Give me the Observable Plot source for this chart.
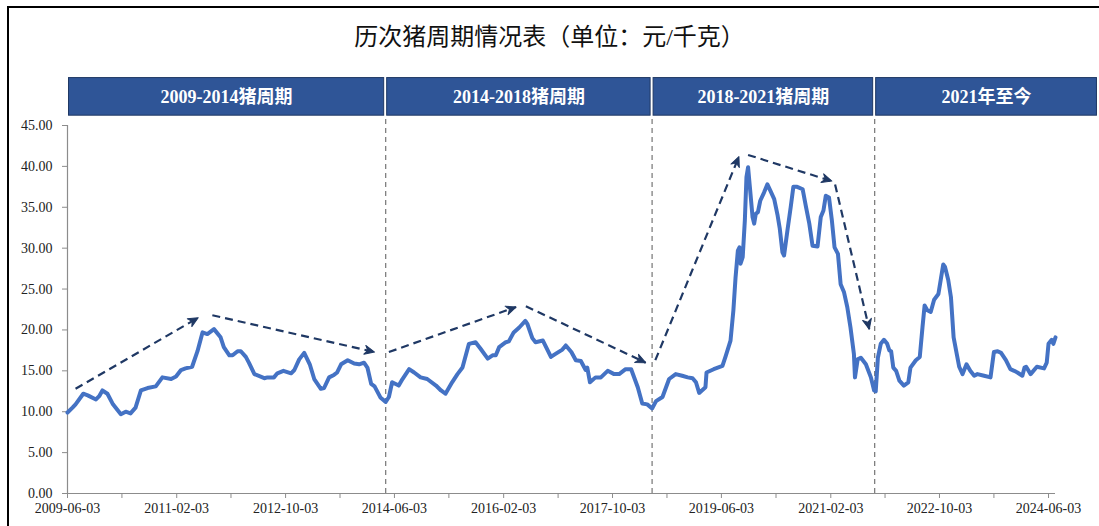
<!DOCTYPE html>
<html><head><meta charset="utf-8">
<script src="https://cdn.jsdelivr.net/npm/d3@7"></script>
<script src="https://cdn.jsdelivr.net/npm/@observablehq/plot@0.6"></script>
<style>
body{margin:0;background:#fff;}
#wrap{position:relative;width:1099px;height:526px;overflow:hidden;background:#fff;}
#frame{position:absolute;left:7px;top:6px;width:1200px;height:600px;border-left:2px solid #000;border-top:2px solid #000;}
#title{position:absolute;left:0;top:21px;width:1099px;text-align:center;font-family:"Liberation Serif","Noto Sans CJK SC",serif;font-size:24px;line-height:32px;color:#111;}
#chart{position:absolute;left:0;top:70px;}
</style></head>
<body><div id="wrap"><div id="frame"></div><div id="title">历次猪周期情况表（单位：元/千克）</div><div id="chart"></div></div>
<script>
const dates = ["2009-06-03","2009-07-01","2009-07-18","2009-08-30","2009-09-24","2009-11-09","2009-11-27","2009-12-15","2010-01-12","2010-02-12","2010-03-28","2010-04-24","2010-05-21","2010-06-18","2010-07-18","2010-08-24","2010-10-09","2010-11-15","2011-01-03","2011-01-30","2011-02-27","2011-03-24","2011-04-30","2011-05-30","2011-06-27","2011-07-24","2011-08-30","2011-10-06","2011-10-24","2011-11-24","2011-12-12","2012-01-09","2012-01-27","2012-02-24","2012-03-12","2012-04-12","2012-06-06","2012-06-24","2012-07-30","2012-08-18","2012-09-21","2012-11-03","2012-11-21","2012-12-18","2013-01-15","2013-02-15","2013-03-12","2013-04-18","2013-05-06","2013-06-03","2013-06-30","2013-07-18","2013-08-09","2013-09-15","2013-10-21","2013-11-18","2013-12-15","2014-01-03","2014-01-24","2014-02-12","2014-03-18","2014-04-15","2014-05-03","2014-05-21","2014-06-27","2014-07-18","2014-08-24","2014-09-21","2014-10-27","2014-12-03","2015-01-21","2015-02-18","2015-03-15","2015-04-21","2015-05-21","2015-06-18","2015-07-24","2015-08-30","2015-09-27","2015-11-06","2015-12-03","2015-12-21","2016-01-09","2016-02-15","2016-03-03","2016-03-30","2016-04-30","2016-06-03","2016-06-15","2016-07-12","2016-07-30","2016-09-09","2016-09-27","2016-10-24","2016-11-21","2016-12-27","2017-01-15","2017-02-15","2017-03-12","2017-04-09","2017-05-06","2017-05-15","2017-05-30","2017-06-30","2017-07-30","2017-09-06","2017-10-12","2017-11-09","2017-12-15","2018-01-15","2018-02-21","2018-03-18","2018-04-15","2018-05-12","2018-06-03","2018-07-09","2018-08-15","2018-09-21","2018-10-27","2018-11-27","2018-12-24","2019-01-12","2019-01-30","2019-03-06","2019-03-12","2019-04-21","2019-06-09","2019-06-27","2019-07-24","2019-08-09","2019-08-21","2019-09-03","2019-09-12","2019-09-18","2019-09-30","2019-10-12","2019-10-21","2019-10-30","2019-11-09","2019-11-24","2019-12-03","2019-12-12","2019-12-24","2020-01-06","2020-01-27","2020-02-15","2020-03-03","2020-03-24","2020-04-12","2020-04-24","2020-05-09","2020-05-18","2020-06-06","2020-06-24","2020-07-09","2020-07-30","2020-08-30","2020-09-18","2020-10-06","2020-10-24","2020-11-21","2020-12-09","2020-12-24","2021-01-06","2021-01-24","2021-02-09","2021-02-24","2021-03-15","2021-03-30","2021-04-18","2021-05-06","2021-05-24","2021-06-12","2021-06-18","2021-07-03","2021-07-21","2021-08-18","2021-09-15","2021-10-03","2021-10-12","2021-10-24","2021-11-09","2021-11-27","2021-12-15","2021-12-27","2022-01-06","2022-01-18","2022-02-03","2022-02-21","2022-03-18","2022-04-12","2022-04-24","2022-05-24","2022-06-15","2022-06-30","2022-07-12","2022-07-27","2022-08-15","2022-09-03","2022-09-27","2022-10-12","2022-10-24","2022-11-03","2022-11-21","2022-12-06","2022-12-21","2023-01-09","2023-01-21","2023-02-09","2023-03-03","2023-03-24","2023-04-15","2023-05-03","2023-06-09","2023-07-15","2023-08-03","2023-08-24","2023-09-12","2023-10-09","2023-11-03","2023-11-24","2023-12-12","2024-01-09","2024-01-21","2024-01-30","2024-02-24","2024-03-30","2024-05-09","2024-05-24","2024-06-03","2024-06-21","2024-06-30","2024-07-12"];
const prices = [9.9,10.5,10.9,12.2,12.0,11.5,11.9,12.6,12.2,10.9,9.7,10.0,9.8,10.5,12.6,12.9,13.1,14.2,14.0,14.3,15.1,15.3,15.5,17.4,19.7,19.5,20.1,19.1,17.9,16.9,16.9,17.4,17.4,16.7,16.0,14.6,14.1,14.2,14.2,14.7,15.0,14.7,15.1,16.4,17.2,15.8,14.0,12.8,12.9,14.2,14.5,14.8,15.8,16.3,15.9,15.8,16.0,15.4,13.4,13.1,11.7,11.2,11.8,13.6,13.2,14.0,15.2,14.8,14.2,14.0,13.2,12.6,12.2,13.6,14.6,15.4,18.3,18.5,17.7,16.5,16.9,16.9,17.9,18.5,18.6,19.7,20.3,21.1,20.7,19.0,18.5,18.7,17.9,16.7,17.1,17.6,18.1,17.3,16.3,16.2,15.1,15.4,13.6,14.2,14.2,15.0,14.6,14.6,15.2,15.2,13.0,11.0,10.9,10.4,11.3,11.8,14.0,14.6,14.4,14.2,14.1,13.6,12.3,13.0,14.8,15.2,15.6,16.8,18.7,22.4,26.4,29.7,30.1,28.1,28.9,33.4,38.7,39.9,37.5,33.8,33.0,34.2,34.4,35.8,36.8,37.8,37.0,36.0,34.0,32.4,29.5,29.1,32.2,35.0,37.5,37.5,37.2,35.0,33.0,30.3,30.2,33.8,34.6,36.4,36.2,33.4,30.1,29.3,25.6,24.6,22.8,20.3,17.1,14.2,16.4,16.6,15.8,14.2,12.6,12.5,16.6,18.3,18.8,18.3,17.5,17.4,15.4,15.0,13.8,13.2,13.6,15.4,16.3,16.7,20.3,23.0,22.4,22.2,23.7,24.4,26.4,28.0,27.7,26.1,24.0,19.1,16.9,15.5,14.6,15.8,15.0,14.4,14.6,14.4,14.2,17.3,17.4,17.2,16.3,15.2,15.0,14.8,14.4,15.4,15.5,14.6,15.5,15.3,16.0,18.3,18.8,18.3,19.1];

const periodNames = ["2009-2014猪周期","2014-2018猪周期","2018-2021猪周期","2021年至今"];
const periodStarts = ["2009-06-03","2014-04-15","2018-05-12","2021-10-06"];
const periodEnds = ["2014-04-15","2018-05-12","2021-10-06","2025-03-09"];

const arrowFromDates = ["2009-07-18","2011-08-21","2014-05-03","2016-06-06","2018-05-30","2019-10-30","2021-02-27"];
const arrowFromValues = [12.8,21.8,17.3,22.9,16.3,41.4,37.8];
const arrowToDates = ["2011-06-03","2014-02-12","2016-04-12","2018-04-06","2019-09-09","2021-02-09","2021-09-06"];
const arrowToValues = [21.5,17.3,22.8,16.0,41.2,38.2,20.1];

const yTicks = [0,5,10,15,20,25,30,35,40,45];
const xMajorTicks = ["2009-06-03","2011-02-03","2012-10-03","2014-06-03","2016-02-03","2017-10-03","2019-06-03","2021-02-03","2022-10-03","2024-06-03"];
const xMinorTicks = ["2010-04-03","2011-12-03","2013-08-03","2015-04-03","2016-12-03","2018-08-03","2020-04-03","2021-12-03","2023-08-03"];

const parse = d3.utcParse("%Y-%m-%d");
const series = dates.map((d, i) => ({date: parse(d), price: prices[i]}));
const periods = periodNames.map((n, i) => ({name: n, start: parse(periodStarts[i]), end: parse(periodEnds[i])}));
const boundaries = periodStarts.slice(1).map(parse);
const arrows = arrowFromDates.map((d, i) => ({x1: parse(d), y1: arrowFromValues[i], x2: parse(arrowToDates[i]), y2: arrowToValues[i]}));

const W = 1099, H = 456, mT = 55, mB = 33, mL = 67, mR = 44;
const xDomain = [series[0].date, series[series.length - 1].date];
const xs = Plot.scale({x: {type: "utc", domain: xDomain, range: [mL, W - mR]}});
const ys = Plot.scale({y: {domain: [0, 45], range: [H - mB, mT]}});
arrows.forEach(a => {
  const dx = xs.apply(a.x2) - xs.apply(a.x1);
  const dy = ys.apply(a.y2) - ys.apply(a.y1);
  a.angle = Math.atan2(dx, -dy) * 180 / Math.PI;
});
const headShape = {
  draw(context, l) {
    context.moveTo(0, -l);
    context.lineTo(-4.5, -l + 10);
    context.lineTo(0, -l + 7);
    context.lineTo(4.5, -l + 10);
    context.closePath();
  }
};
const navy = "#1F3864";
const axisGray = "#8c8c8c";
const chart = Plot.plot({
  width: W, height: H, marginTop: mT, marginBottom: mB, marginLeft: mL, marginRight: mR,
  style: {fontFamily: '"Liberation Serif","Noto Sans CJK SC",serif', fontSize: "14px", color: "#222", background: "transparent", overflow: "visible"},
  x: {type: "utc", domain: xDomain},
  y: {domain: [0, 45]},
  marks: [
    Plot.ruleX(boundaries, {y1: 0, y2: 46.2, stroke: "#7f7f7f", strokeWidth: 1.3, strokeDasharray: "5,4"}),
    Plot.rect(periods, {x1: "start", x2: "end", y1: 46.2, y2: 50.8, fill: "#2F5597", stroke: navy, strokeWidth: 1, insetLeft: 1.5, insetRight: 1.5}),
    Plot.text(periods, {x: d => new Date((+d.start + +d.end) / 2), y: 48.5, text: "name", fill: "white", fontWeight: "bold", fontSize: 18}),
    Plot.ruleY([0], {stroke: axisGray, strokeWidth: 1.2}),
    Plot.ruleX([xDomain[0]], {y1: 0, y2: 45, stroke: axisGray, strokeWidth: 1.2}),
    Plot.axisY(yTicks, {tickSize: 5, tickPadding: 10, tickFormat: d => d.toFixed(2), stroke: axisGray, fill: "#222", label: null}),
    Plot.axisX(xMajorTicks.map(parse), {tickSize: 5, tickPadding: 5, tickFormat: d3.utcFormat("%Y-%m-%d"), stroke: axisGray, fill: "#222", label: null}),
    Plot.axisX(xMinorTicks.map(parse), {tickSize: 5, tickFormat: () => "", stroke: axisGray, label: null}),
    Plot.line(series, {x: "date", y: "price", stroke: "#4472C4", strokeWidth: 4, strokeLinejoin: "round", strokeLinecap: "round"}),
    Plot.link(arrows, {x1: "x1", y1: "y1", x2: "x2", y2: "y2", stroke: navy, strokeWidth: 2.2, strokeDasharray: "8,5"}),
    Plot.vector(arrows, {x: "x2", y: "y2", rotate: "angle", length: 10, anchor: "end", shape: headShape, fill: navy, stroke: navy, strokeWidth: 1})
  ]
});
document.getElementById("chart").appendChild(chart);
</script></body></html>
